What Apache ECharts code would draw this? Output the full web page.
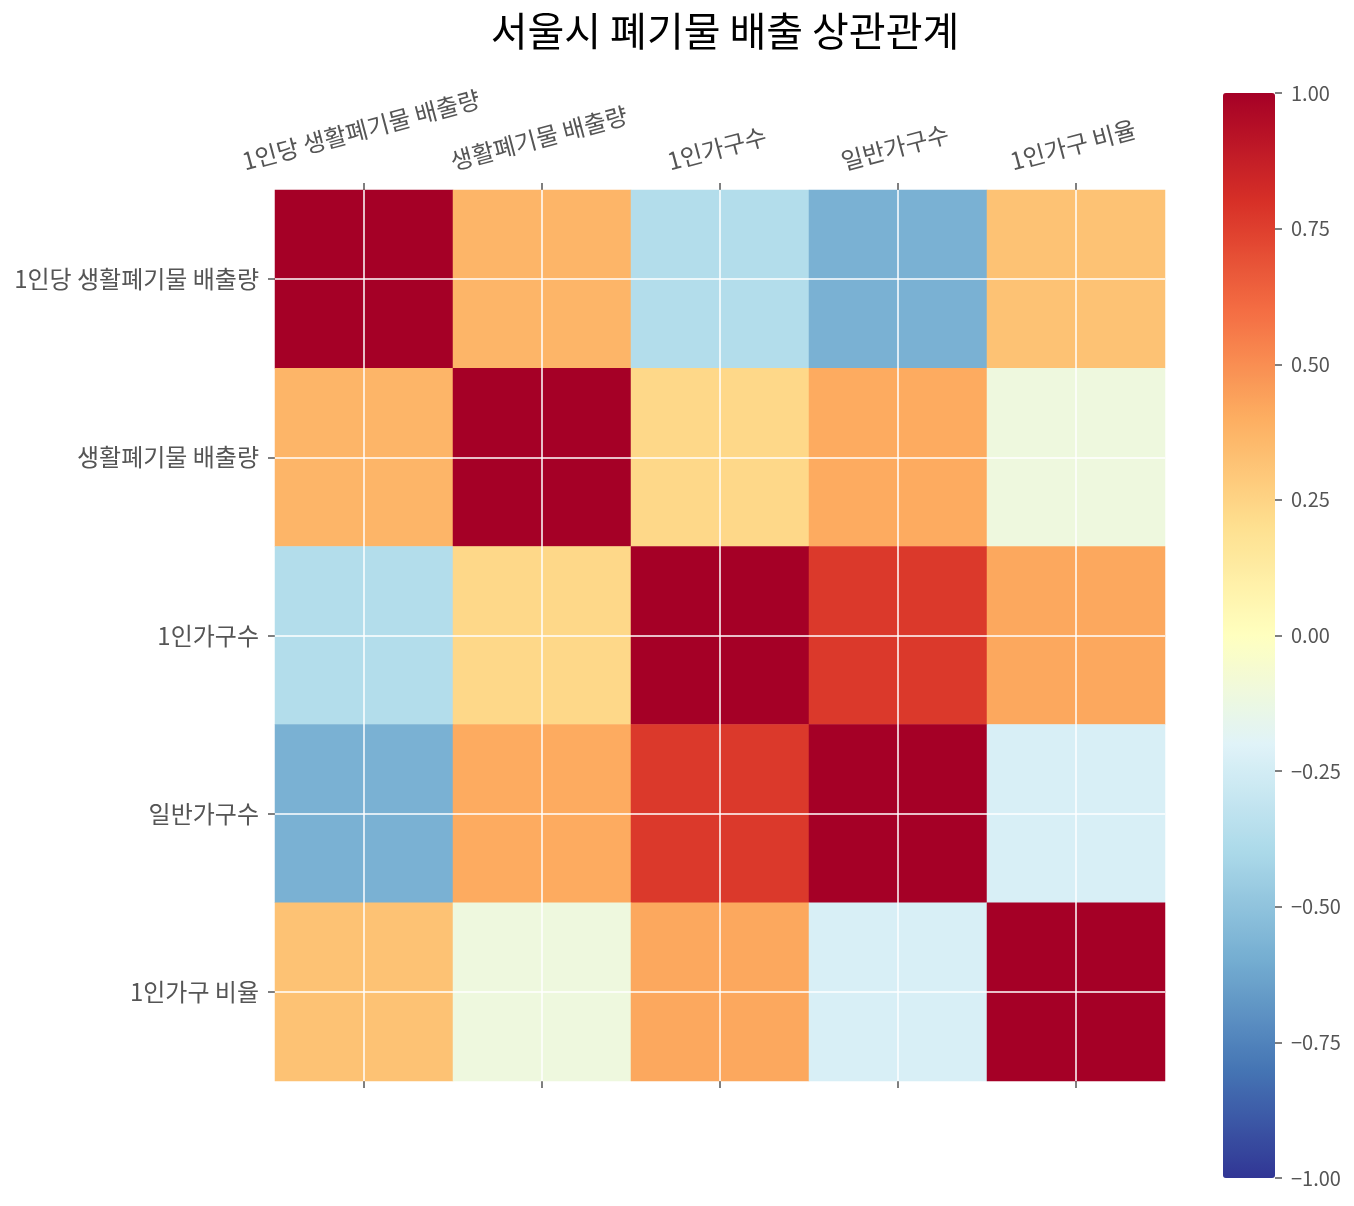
<!DOCTYPE html>
<html>
<head>
<meta charset="utf-8">
<script src="https://cdn.jsdelivr.net/npm/echarts@6/dist/echarts.min.js"></script>
<style>
    html, body { margin: 0; padding: 0; background: #fff; }
    #chart { width: 1354px; height: 1206px; }
</style>
</head>
<body>
<div id="chart"></div>
<script>
var labels = ['1인당 생활폐기물 배출량', '생활폐기물 배출량', '1인가구수', '일반가구수', '1인가구 비율'];
// 상관계수 행렬 (행 순서 = labels)
var row0 = [1.00, 0.37, -0.37, -0.58, 0.32];
var row1 = [0.37, 1.00, 0.23, 0.41, -0.11];
var row2 = [-0.37, 0.23, 1.00, 0.77, 0.42];
var row3 = [-0.58, 0.41, 0.77, 1.00, -0.23];
var row4 = [0.32, -0.11, 0.42, -0.23, 1.00];
// RdYlBu_r
var cmap = ['#313695', '#4575b4', '#74add1', '#abd9e9', '#e0f3f8', '#ffffbf',
            '#fee090', '#fdae61', '#f46d43', '#d73027', '#a50026'];

var FONT = '"Noto Sans CJK KR", "Noto Sans", sans-serif';
var LABEL_SIZE = 24;
var ROT = 15;

var rows = [row0, row1, row2, row3, row4];
var heatData = [];
for (var i = 0; i < rows.length; i++) {
    for (var j = 0; j < rows[i].length; j++) {
        heatData.push([j, i, rows[i][j]]);
    }
}

// 위쪽 라벨: 회전된 글자의 아래쪽 끝을 맞추기 위해 라벨마다 padding
var ctx = document.createElement('canvas').getContext('2d');
ctx.font = LABEL_SIZE + 'px ' + FONT;
var widths = labels.map(function (s) { return ctx.measureText(s).width; });
var minW = Math.min.apply(null, widths);
var rad = ROT * Math.PI / 180;
var topLabels = labels.map(function (s, k) {
    var shift = (widths[k] - minW) / 2 * Math.sin(rad);
    var pb = shift * Math.cos(rad), pl = 2 * shift * Math.sin(rad);
    return {
        value: s,
        textStyle: {
            align: 'center', verticalAlign: 'bottom',
            fontFamily: FONT, fontSize: LABEL_SIZE, color: '#555',
            padding: [0, 0, pb, pl]
        }
    };
});

// 위치
var L = 275, T = 190, W = 890, H = 891;
var cw = W / labels.length, ch = H / labels.length;
var CBL = 1223, CBT = 93, CBW = 52, CBH = 1085;
var n = labels.length - 1;
var tickStyle = { color: '#555', width: 1.5 };
var noLine = { show: true, onZero: false, lineStyle: { color: 'rgba(0,0,0,0)', width: 0 } };

function hiddenAxis(idx) {
    return { type: 'value', gridIndex: idx, show: false, min: 0, max: 1 };
}
function gridLineAxis(idx) {
    return {
        type: 'value', gridIndex: idx, min: 0, max: n, interval: 1, z: 10,
        axisLine: { show: false, onZero: false }, axisTick: { show: false }, axisLabel: { show: false },
        splitLine: { show: true, showMinLine: true, showMaxLine: true, lineStyle: { color: '#fff', width: 1.5 } }
    };
}
function box(left, top, width, height) {
    return { left: left, top: top, width: width, height: height, outerBoundsMode: 'none', containLabel: false };
}

var option = {
    backgroundColor: '#fff',
    animation: false,
    title: {
        text: '서울시 폐기물 배출 상관관계',
        left: 720,
        top: 6,
        textAlign: 'center',
        textStyle: { fontFamily: FONT, fontSize: 40, fontWeight: 'normal', color: '#000' }
    },
    grid: [
        box(L, T, W, H),
        box(L + cw / 2, T, W - cw, H),
        box(L, T + ch / 2, W, H - ch),
        box(CBL, CBT, CBW, CBH)
    ],
    xAxis: [{
        type: 'category', gridIndex: 0, position: 'top', data: topLabels,
        axisLine: noLine,
        axisTick: { show: true, alignWithLabel: true, length: 7, lineStyle: tickStyle },
        axisLabel: {
            interval: 0, rotate: -ROT, align: 'center', verticalAlign: 'bottom', margin: 30,
            fontFamily: FONT, fontSize: LABEL_SIZE, color: '#555'
        },
        splitLine: { show: false }
    }, {
        type: 'category', gridIndex: 0, position: 'bottom', data: labels,
        axisLine: noLine,
        axisTick: { show: true, alignWithLabel: true, length: 7, lineStyle: tickStyle },
        axisLabel: { show: false },
        splitLine: { show: false }
    },
    gridLineAxis(1),
    hiddenAxis(2),
    hiddenAxis(3)],
    yAxis: [{
        type: 'category', gridIndex: 0, data: labels, inverse: true,
        axisLine: noLine,
        axisTick: { show: true, alignWithLabel: true, length: 7, lineStyle: tickStyle },
        axisLabel: { interval: 0, margin: 16, fontFamily: FONT, fontSize: LABEL_SIZE, color: '#555' },
        splitLine: { show: false }
    },
    hiddenAxis(1),
    gridLineAxis(2),
    {
        type: 'value', gridIndex: 3, position: 'right', min: -1, max: 1, interval: 0.25, z: 10,
        axisLine: noLine,
        axisTick: { show: true, length: 7, lineStyle: tickStyle },
        axisLabel: {
            margin: 16, fontFamily: FONT, fontSize: 20, color: '#555',
            formatter: function (v) {
                var s = Math.abs(v).toFixed(2);
                return v < 0 ? '\u2212' + s : s;
            }
        },
        splitLine: { show: false }
    }],
    visualMap: {
        type: 'continuous',
        min: -1, max: 1,
        seriesIndex: 0,
        calculable: false,
        hoverLink: false,
        realtime: false,
        left: CBL, top: CBT,
        itemWidth: CBW, itemHeight: CBH,
        padding: 0,
        text: null,
        showLabel: false,
        indicatorSize: 0,
        indicatorStyle: { opacity: 0, borderWidth: 0 },
        handleSize: 0,
        handleStyle: { opacity: 0, borderWidth: 0 },
        inRange: { color: cmap }
    },
    series: [{
        type: 'heatmap',
        xAxisIndex: 0, yAxisIndex: 0,
        data: heatData,
        label: { show: false },
        itemStyle: { borderWidth: 0 },
        emphasis: { disabled: true }
    }]
};

var echart = echarts.init(document.getElementById('chart'));
echart.setOption(option, true);
</script>
</body>
</html>
